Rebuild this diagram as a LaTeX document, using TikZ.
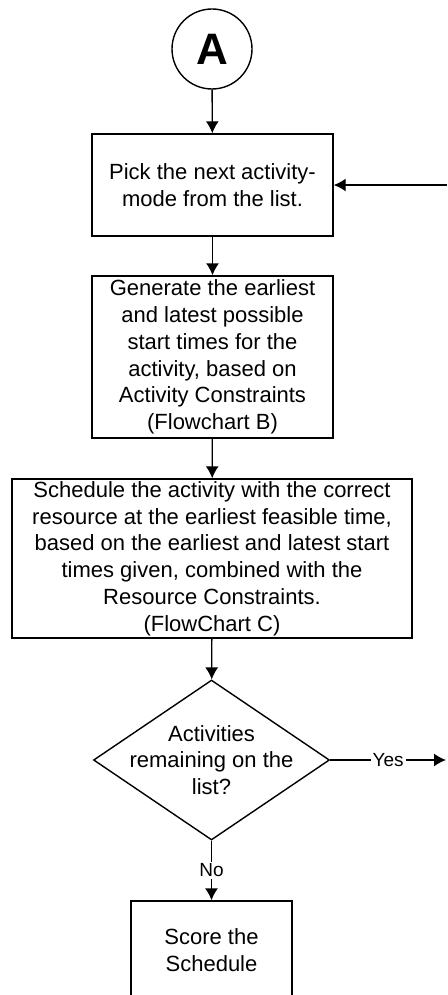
\documentclass[tikz,border=0pt]{standalone}
\usepackage{fontspec}
\setmainfont{Liberation Sans}
\usetikzlibrary{shapes.geometric, arrows.meta}

\begin{document}
\begin{tikzpicture}[x=0.5pt, y=-0.5pt, line width=0.7pt,
    font=\fontsize{11}{13.4}\selectfont,
    box/.style={draw, align=center, inner sep=0pt},
    decision/.style={draw, diamond, inner sep=0pt, minimum width=118pt, minimum height=80pt},
    arr/.style={-{Latex[length=6pt, width=6.5pt]}},
    answer/.style={fill=white, inner sep=1pt, font=\fontsize{9.5}{11}\selectfont}]
  \useasboundingbox (0,0) rectangle (447,995);
  \node[draw, circle, minimum size=40pt, inner sep=0pt, font=\fontsize{22}{22}\selectfont\bfseries] (start) at (212,49) {A};
  \node[box, minimum width=120.5pt, minimum height=51pt] (pick) at (212.5,185) {Pick the next activity-\\mode from the list.};
  \node[box, minimum width=120.5pt, minimum height=81pt] (generate) at (212.5,357) {Generate the earliest\\and latest possible\\start times for the\\activity, based on\\Activity Constraints\\(Flowchart B)};
  \node[box, minimum width=200pt, minimum height=79.5pt] (schedule) at (212,558.5) {Schedule the activity with the correct\\resource at the earliest feasible time,\\based on the earliest and latest start\\times given, combined with the\\Resource Constraints.\\(FlowChart C)};
  \node[decision] (remaining) at (211.5,760) {};
  \node[align=center] (remainingtext) at (remaining) {Activities\\remaining on the\\list?};
  \node[box, minimum width=80.5pt, minimum height=49.5pt] (score) at (211.5,950.5) {Score the\\Schedule};
  \coordinate (loopin) at (447,185);
  \coordinate (yesout) at (446,760);

  \draw[arr] (start) -- (pick);
  \draw[arr] (pick) -- (generate);
  \draw[arr] (generate) -- (schedule);
  \draw[arr] (schedule) -- (remaining);
  \draw[arr] (remaining) -- node[answer] {No} (score);
  \draw[arr] (remaining.east) -- node[answer] {Yes} (yesout);
  \draw[arr] (loopin) -- (pick.east);
\end{tikzpicture}
\end{document}
